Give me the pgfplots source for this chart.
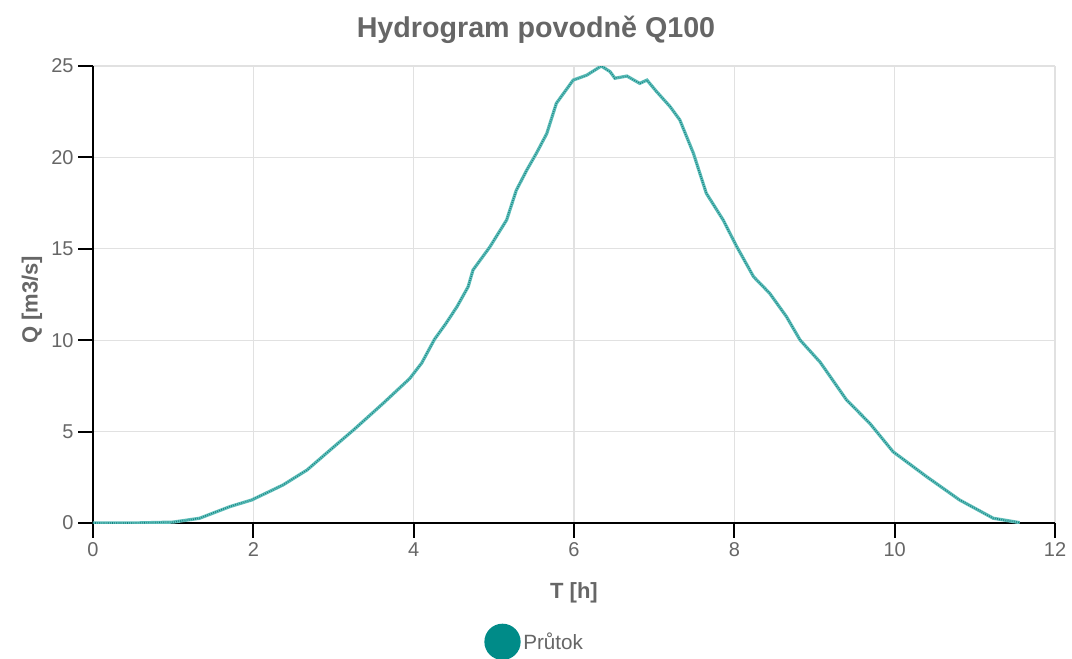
\documentclass[border=0pt]{standalone}
\usepackage{pgfplots}
\pgfplotsset{compat=1.18}
\usepackage{pgfplotstable}
\usepackage{fontspec}
\setmainfont{Liberation Sans}
\definecolor{txtgray}{RGB}{102,102,102}
\definecolor{gridgray}{RGB}{225,225,225}
\definecolor{tealA}{RGB}{95,190,186}
\definecolor{tealB}{RGB}{20,130,128}
\definecolor{tealL}{RGB}{0,139,136}
\pgfplotstableread{
t Q
0 0
0.5 0
1.0 0.05
1.33 0.26
1.71 0.9
1.98 1.26
2.37 2.08
2.67 2.9
2.96 4.0
3.25 5.09
3.62 6.55
3.95 7.9
4.10 8.75
4.18 9.4
4.26 10.05
4.40 10.9
4.54 11.83
4.68 12.93
4.74 13.84
4.95 15.1
5.16 16.58
5.28 18.2
5.41 19.3
5.53 20.22
5.66 21.3
5.78 22.96
5.99 24.23
6.16 24.5
6.34 25.0
6.45 24.69
6.51 24.33
6.66 24.45
6.82 24.05
6.91 24.23
7.03 23.6
7.20 22.77
7.32 22.05
7.49 20.22
7.65 18.04
7.86 16.58
8.03 15.12
8.24 13.47
8.44 12.57
8.65 11.29
8.82 10.01
9.07 8.8
9.40 6.73
9.69 5.45
9.98 3.9
10.40 2.53
10.81 1.26
11.23 0.26
11.56 0.02
}\hydro
\begin{document}
\begin{tikzpicture}
\fill[white] (-69.75pt,-101.25pt) rectangle (734.25pt,392.25pt);
\useasboundingbox (-69.75pt,-101.25pt) rectangle (734.25pt,392.25pt);
\begin{axis}[
  at={(0,0)}, anchor=south west,
  scale only axis,
  width=721.5pt, height=342.75pt,
  xmin=0, xmax=12, ymin=0, ymax=25,
  xtick={0,2,...,12}, ytick={0,5,...,25},
  axis lines=left,
  axis line style={-, black, line width=2.1pt},
  tick align=outside,
  major tick length=11pt,
  tick style={black, line width=1.4pt},
  grid=major,
  major grid style={gridgray, line width=0.8pt},
  /pgf/number format/assume math mode=true,
  ticklabel style={font=\fontsize{15}{18}\selectfont, text=txtgray},
  title={Hydrogram povodně Q100},
  title style={at={(0.4605,1.062)}, anchor=center, font=\bfseries\fontsize{21.5}{25}\selectfont, text=txtgray},
  xlabel={T [h]},
  xlabel style={at={(0.5,-0.153)}, anchor=center, font=\bfseries\fontsize{16.5}{19}\selectfont, text=txtgray},
  ylabel={Q [m3/s]},
  ylabel style={at={(-0.0634,0.488)}, anchor=center, font=\bfseries\fontsize{16.5}{19}\selectfont, text=txtgray},
  legend style={at={(0.4595,-0.26)}, anchor=center, draw=none, fill=none,
    font=\fontsize{15.5}{18}\selectfont, text=txtgray},
  legend cell align=left,
]
\addplot[tealA, line width=2.4pt,
  legend image code/.code={\fill[tealL] (0.25cm,0) circle (12.4pt);}] table[x=t,y=Q]{\hydro};
\addlegendentry{Průtok}
\addplot[tealB, line width=1.2pt, dash pattern=on 0.5pt off 1.1pt, forget plot] table[x=t,y=Q]{\hydro};
\end{axis}
\end{tikzpicture}
\end{document}
